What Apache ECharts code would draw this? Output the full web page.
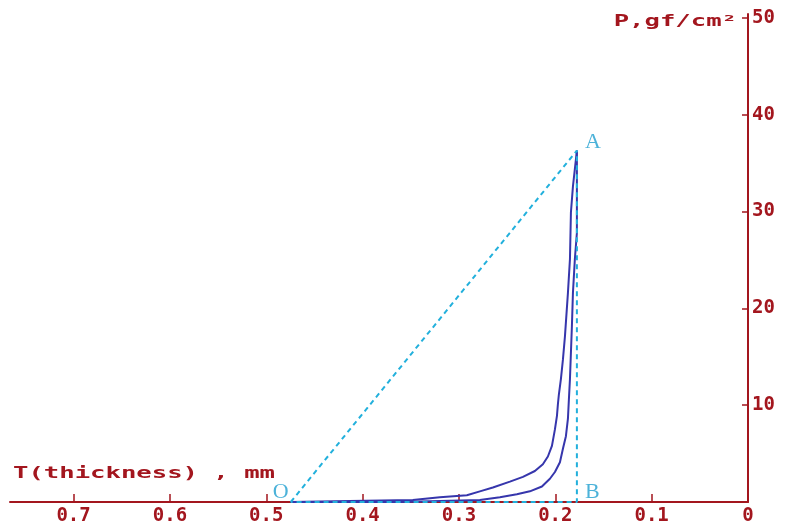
<!DOCTYPE html>
<html>
<head>
<meta charset="utf-8">
<script src="https://cdn.jsdelivr.net/npm/echarts@6/dist/echarts.min.js"></script>
<style>
  html, body { margin: 0; padding: 0; background: #fff; }
  #chart { width: 785px; height: 526px; }
</style>
</head>
<body>
<div id="chart"></div>
<script>
// thickness (mm) / pressure (gf/cm2)
var loadT = [0.4746, 0.4133, 0.3479, 0.3198, 0.2918, 0.2783, 0.2648, 0.2471, 0.2336, 0.2212, 0.2129, 0.2077,
             0.2035, 0.2004, 0.1983, 0.1973, 0.1963, 0.1942, 0.1921, 0.1900, 0.1869, 0.1848, 0.1838, 0.1817, 0.1776];
var loadP = [0, 0.1, 0.2, 0.5, 0.7, 1.1, 1.5, 2.1, 2.6, 3.2, 3.9, 4.7,
             5.8, 7.5, 8.9, 10.1, 11.1, 12.7, 14.7, 17.1, 21.6, 25.1, 29.9, 32.6, 36.3];

var recoverT = [0.1776, 0.1776, 0.1797, 0.1817, 0.1828, 0.1848, 0.1859, 0.1869, 0.1890, 0.1921, 0.1952,
                0.2004, 0.2056, 0.2139, 0.2264, 0.2399, 0.2575, 0.2783, 0.3198, 0.3614, 0.4746];
var recoverP = [36.3, 27.8, 25.1, 21.6, 18.1, 12.7, 10.6, 8.6, 6.8, 5.5, 4.1,
                3.1, 2.4, 1.6, 1.1, 0.8, 0.5, 0.2, 0.1, 0, 0];

// O, A, B construction points
var refNames = ['O', 'A', 'B'];
var refT = [0.4746, 0.1776, 0.1776];
var refP = [0, 36.3, 0];

var xTicks = [0, 0.1, 0.2, 0.3, 0.4, 0.5, 0.6, 0.7];
var yTicks = [10, 20, 30, 40, 50];

var axisRed = '#a3161e';
var curveBlue = '#3636ac';
var refCyan = '#22b0dc';
var letterCyan = '#1f9fd0';

function zip(a, b) {
    var out = [];
    for (var i = 0; i < a.length; i++) out.push([a[i], b[i]]);
    return out;
}

var labelPos = {
    O: { position: 'left', distance: 4, offset: [2, -10] },
    A: { position: 'right', distance: 8, offset: [0, -8] },
    B: { position: 'right', distance: 8, offset: [0, -10] }
};
var refLabels = [];
for (var i = 0; i < refNames.length; i++) {
    var lp = labelPos[refNames[i]];
    refLabels.push({
        name: refNames[i],
        value: [refT[i], refP[i]],
        label: { show: true, position: lp.position, distance: lp.distance, offset: lp.offset, formatter: '{b}' }
    });
}
var loop = zip(refT, refP);
loop.push([refT[0], refP[0]]);

var tickFont = { fontFamily: '"DejaVu Sans Mono"', fontWeight: 'bold', fontSize: 19, color: axisRed };

var option = {
    backgroundColor: '#fff',
    animation: false,
    grid: { left: 10, right: 37, top: 14, bottom: 23, containLabel: false },
    xAxis: {
        type: 'value',
        inverse: true,
        min: 0,
        max: 0.766,
        axisLine: { show: true, onZero: false, lineStyle: { color: axisRed, width: 2 } },
        axisTick: { show: true, inside: true, length: 8, customValues: xTicks, lineStyle: { color: axisRed, width: 1.5 } },
        axisLabel: Object.assign({ customValues: xTicks, margin: 5, formatter: function (v) { return String(v); } }, tickFont),
        splitLine: { show: false }
    },
    yAxis: {
        type: 'value',
        position: 'right',
        min: 0,
        max: 50.4,
        axisLine: { show: true, onZero: false, lineStyle: { color: axisRed, width: 2 } },
        axisTick: { show: true, inside: true, length: 6, customValues: yTicks, lineStyle: { color: axisRed, width: 1.5 } },
        axisLabel: Object.assign({ customValues: yTicks, margin: 4 }, tickFont),
        splitLine: { show: false }
    },
    graphic: [
        {
            type: 'text', x: 13, y: 474, scaleX: 1.6,
            style: { text: 'T(thickness) , mm', fill: axisRed, font: 'bold 16px "DejaVu Sans Mono"', textVerticalAlign: 'middle' }
        },
        {
            type: 'text', x: 737, y: 22, scaleX: 1.6,
            style: { text: 'P,gf/cm²', fill: axisRed, font: 'bold 16px "DejaVu Sans Mono"', textAlign: 'right', textVerticalAlign: 'middle' }
        }
    ],
    series: [
        {
            name: 'loading', type: 'line', data: zip(loadT, loadP), showSymbol: false,
            lineStyle: { color: curveBlue, width: 2 }, z: 2
        },
        {
            name: 'recovery', type: 'line', data: zip(recoverT, recoverP), showSymbol: false,
            lineStyle: { color: curveBlue, width: 2 }, z: 2
        },
        {
            name: 'OAB', type: 'line', data: loop, showSymbol: false,
            lineStyle: { color: refCyan, width: 2, type: [5, 4] }, z: 3
        },
        {
            name: 'points', type: 'scatter', data: refLabels, symbolSize: 0,
            itemStyle: { color: refCyan },
            label: { color: letterCyan, fontFamily: '"Liberation Serif"', fontSize: 22 }, z: 4
        }
    ]
};

echarts.init(document.getElementById('chart')).setOption(option);
</script>
</body>
</html>
